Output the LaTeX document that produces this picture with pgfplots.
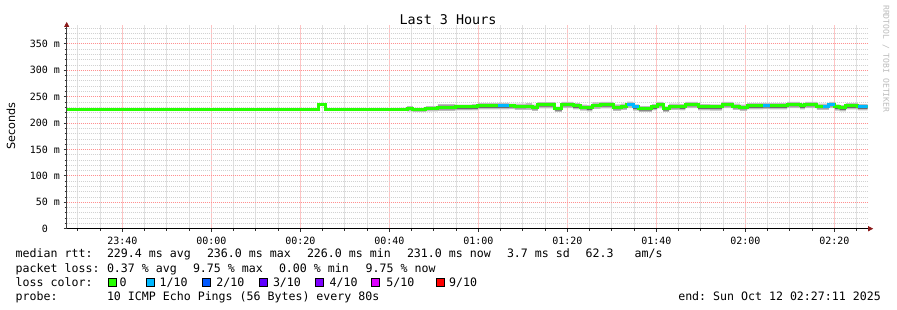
\documentclass[border=0pt]{standalone}
\usepackage{fontspec}
\setmainfont{DejaVu Sans Mono}
\newfontfamily\dvsans{DejaVu Sans}
\usepackage{pgfplots}
\pgfplotsset{compat=1.18}
\usepackage{pgfplotstable}
\usepgfplotslibrary{fillbetween}
\usetikzlibrary{arrows.meta}
\definecolor{lossA}{HTML}{26FF00}
\definecolor{lossB}{HTML}{00B8FF}
\definecolor{lossC}{HTML}{0059FF}
\definecolor{lossD}{HTML}{5E00FF}
\definecolor{lossE}{HTML}{7E00FF}
\definecolor{lossF}{HTML}{DD00FF}
\definecolor{lossJ}{HTML}{FF0000}
\definecolor{mgrid}{HTML}{FF9090}
\definecolor{ngrid}{HTML}{D2D2D2}
\definecolor{mgridv}{HTML}{FFC4C4}
\definecolor{ngridv}{HTML}{E0E0E0}
\definecolor{arrowred}{HTML}{8B1A1A}
\definecolor{smokeA}{HTML}{BDBDBD}
\definecolor{smokeB}{HTML}{6A6A6A}
\definecolor{credit}{HTML}{BBBBBB}

% time in minutes relative to 00:00, rtt in ms
\pgfplotstableread{
x     med   lo1   hi1   lo2   hi2
-32.5 226   226   226   226   226
24.0  236   236   236   236   236
25.55 226   226   226   226   226
42.4  226   223   229   225   227.5
44.0  228   222   232   225   230
45.3  226   221   229   223   227.5
48.2  228   222   232   225   230
50.9  230   223   236   226   233
54.8  230.5 224   235   226.5 232.5
58.6  231   224   236   227   233
59.9  233   226   238   229   235
64.4  233   226   238.5 229   235
66.9  233   226.5 237   229.5 235
68.2  232   225   237   228   234
70.7  232   225   238   228.5 234.5
72.1  230   223   235   226   232
73.4  235.6 228   239.5 231   237.5
77.2  226.7 221   231   223.5 229
78.8  235.6 228.5 240   231.5 237.5
81.3  233   226   238   229   235
82.9  230   223.5 235   226.5 232
84.4  228.6 222   234   225   231
85.6  234   227   239   230   236
87.4  235.6 228   240   231   237.5
90.3  230   223   235.5 226   232.5
92.1  232   225   237   228   234
93.4  236   228.5 240.5 232   238
94.8  230.5 223.5 235.5 226.5 232.5
96.1  227   221   232   223.5 229.5
99.0  231   224   236   227   233
100.2 235.6 228   240   231.5 237.5
101.5 227   221   231.5 223.5 229
102.9 232   225   237   228   234
105.3 231   224   236   227   233
106.5 235.6 228.5 240   231.5 237.5
109.4 231   224   236   227   233
112.1 230.5 223.5 235.5 226.5 232.5
114.8 235.6 228.5 240   231.5 237.5
117.2 232   225   237   228   234
118.8 230   223   235   226   232
120.4 233   226   238   229   235
124.0 233.5 226.5 238.5 229.5 235.5
125.5 233   226   238   229   235
129.4 235.6 228.5 240   231.5 237.5
132.3 233   226   238   229   235
133.4 235.6 228.5 240   231.5 237.5
136.1 232   225   237   228   234
137.4 232   225   237   228   234
138.8 235.6 228.5 240   231.5 237.5
140.1 230.5 223.5 235.5 226.5 232.5
141.2 229   222   234   225   231
142.6 233   226   238   229   235
145.3 231   224   236   227   233
146.7 231   224   236   227   233
147.5 231   224   236   227   233
}\rtt

\newcommand{\lf}{\fontsize{11.6bp}{14bp}\selectfont}

\begin{document}
\frenchspacing
\begin{tikzpicture}
\begin{axis}[
  at={(66.7bp,81.3bp)}, anchor=south west,
  scale only axis, width=801bp, height=203.3bp,
  xmin=-32.5, xmax=147.5, ymin=0, ymax=385,
  axis x line*=bottom, axis y line*=left,
  x axis line style={black, line width=0.8bp, -{Triangle[length=5bp,width=5bp,color=arrowred]}, shorten >=-5.5bp},
  y axis line style={black!75, line width=0.8bp, -{Triangle[length=5bp,width=5bp,color=arrowred]}, shorten >=-3.5bp},
  xtick={-20,0,20,40,60,80,100,120,140},
  xticklabels={23:40,00:00,00:20,00:40,01:00,01:20,01:40,02:00,02:20},
  minor xtick={-30,-25,-15,-10,-5,5,10,15,25,30,35,45,50,55,65,70,75,85,90,95,105,110,115,125,130,135,145},
  ytick={0,50,100,150,200,250,300,350},
  yticklabels={0\hphantom{\ m},50 m,100 m,150 m,200 m,250 m,300 m,350 m},
  minor ytick={10,20,30,40,60,70,80,90,110,120,130,140,160,170,180,190,210,220,230,240,260,270,280,290,310,320,330,340,360,370,380},
  grid=both,
  major y grid style={mgrid, dash pattern=on 1bp off 1bp, line width=0.9bp},
  minor y grid style={ngrid, dash pattern=on 1bp off 1bp, line width=0.8bp},
  major x grid style={mgridv, solid, line width=0.9bp},
  minor x grid style={ngridv, solid, line width=0.9bp},
  tick align=outside,
  major tick length=3bp, minor tick length=2bp,
  tick style={black!80, line width=0.8bp},
  tick label style={font=\fontsize{10bp}{12bp}\selectfont},
  xticklabel style={anchor=base, yshift=-12.5bp},
  yticklabel style={anchor=east, inner sep=0pt, xshift=-3.5bp},
]
\addplot[name path=loA, draw=none, const plot, forget plot] table[x=x,y=lo1]{\rtt};
\addplot[name path=hiA, draw=none, const plot, forget plot] table[x=x,y=hi1]{\rtt};
\addplot[smokeA, forget plot] fill between[of=hiA and loA];
\addplot[name path=loB, draw=none, const plot, forget plot] table[x=x,y=lo2]{\rtt};
\addplot[name path=hiB, draw=none, const plot, forget plot] table[x=x,y=hi2]{\rtt};
\addplot[smokeB, forget plot] fill between[of=hiB and loB];
\addplot[lossA, line width=3bp, const plot] table[x=x,y=med]{\rtt};
\addplot[lossB, line width=3bp, const plot] coordinates {(64.4,233) (66.9,233)};
\addplot[lossB, line width=3bp, const plot] coordinates {(93.4,236) (94.8,230.5) (96.1,230.5)};
\addplot[lossB, line width=3bp, const plot] coordinates {(124.0,233.5) (125.5,233.5)};
\addplot[lossB, line width=3bp, const plot] coordinates {(137.4,232) (138.8,235.6) (140.1,235.6)};
\addplot[lossB, line width=3bp, const plot] coordinates {(145.3,231) (147.5,231)};
\end{axis}

\node[font=\fontsize{13.4bp}{16bp}\selectfont] at (448bp,290bp) {Last 3 Hours};
\node[rotate=90, font=\dvsans\fontsize{11.2bp}{13bp}\selectfont] at (11bp,184bp) {Seconds};
\node[rotate=-90, anchor=west, inner sep=0pt, text=credit, font=\fontsize{8.1bp}{10bp}\selectfont] at (886bp,305bp) {RRDTOOL / TOBI OETIKER};

\begin{scope}[every node/.style={anchor=base west, inner sep=0pt, font=\lf}]
\node at (15.5bp,52bp) {median rtt:};
\node at (106.8bp,52bp) {229.4 ms avg};
\node at (206.8bp,52bp) {236.0 ms max};
\node at (306.8bp,52bp) {226.0 ms min};
\node at (406.8bp,52bp) {231.0 ms now};
\node at (506.8bp,52bp) {3.7 ms sd};
\node at (585.5bp,52bp) {62.3};
\node at (634.5bp,52bp) {am/s};

\node at (15.5bp,38bp) {packet loss:};
\node at (106.8bp,38bp) {0.37 \% avg};
\node at (192.8bp,38bp) {9.75 \% max};
\node at (278.8bp,38bp) {0.00 \% min};
\node at (365.5bp,38bp) {9.75 \% now};

\node at (15.5bp,24bp) {loss color:};
\node at (119.5bp,24bp) {0};
\node at (159.5bp,24bp) {1/10};
\node at (216.2bp,24bp) {2/10};
\node at (272.8bp,24bp) {3/10};
\node at (329.5bp,24bp) {4/10};
\node at (386.2bp,24bp) {5/10};
\node at (449bp,24bp) {9/10};

\node at (15.5bp,10bp) {probe:};
\node at (106.8bp,10bp) {10 ICMP Echo Pings (56 Bytes) every 80s};
\node[anchor=base east] at (881bp,10bp) {end: Sun Oct 12 02:27:11 2025};
\end{scope}

\foreach \xx/\cc in {108.3/lossA,146/lossB,202.7/lossC,259.3/lossD,315.3/lossE,371.7/lossF,436/lossJ}{
  \draw[black, line width=0.8bp, fill=\cc] (\xx bp,23.8bp) rectangle ++(8bp,8bp);
}
\pgfresetboundingbox
\path (0,0) rectangle (897bp,310bp);
\end{tikzpicture}
\end{document}
